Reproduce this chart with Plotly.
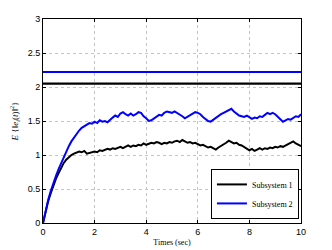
import plotly.graph_objects as go

t = [round(i * 0.1, 1) for i in range(101)]

sub1 = [0.00, 0.17, 0.32, 0.44, 0.55, 0.65, 0.73, 0.81, 0.88, 0.93,
        0.97, 1.00, 1.02, 1.03, 1.05, 1.04, 1.06, 1.02, 1.03, 1.04,
        1.05, 1.04, 1.07, 1.06, 1.08, 1.09, 1.08, 1.10, 1.09, 1.11,
        1.12, 1.10, 1.12, 1.14, 1.12, 1.14, 1.13, 1.15, 1.14, 1.17,
        1.15, 1.16, 1.18, 1.17, 1.19, 1.18, 1.16, 1.18, 1.17, 1.19,
        1.18, 1.20, 1.21, 1.19, 1.22, 1.20, 1.18, 1.19, 1.17, 1.18,
        1.16, 1.14, 1.15, 1.13, 1.11, 1.12, 1.10, 1.08, 1.11, 1.13,
        1.15, 1.18, 1.21, 1.19, 1.17, 1.18, 1.15, 1.14, 1.12, 1.09,
        1.07, 1.09, 1.06, 1.08, 1.10, 1.08, 1.10, 1.09, 1.11, 1.10,
        1.12, 1.11, 1.13, 1.12, 1.14, 1.15, 1.17, 1.20, 1.17, 1.15,
        1.13]

sub2 = [0.00, 0.18, 0.34, 0.47, 0.59, 0.69, 0.79, 0.88, 0.97, 1.05,
        1.13, 1.20, 1.26, 1.32, 1.36, 1.40, 1.42, 1.44, 1.47, 1.46,
        1.49, 1.47, 1.51, 1.49, 1.50, 1.48, 1.52, 1.55, 1.58, 1.56,
        1.61, 1.63, 1.60, 1.58, 1.61, 1.58, 1.60, 1.63, 1.62, 1.57,
        1.54, 1.50, 1.51, 1.54, 1.57, 1.59, 1.58, 1.62, 1.64, 1.63,
        1.62, 1.64, 1.62, 1.60, 1.57, 1.54, 1.56, 1.58, 1.61, 1.63,
        1.62, 1.60, 1.56, 1.53, 1.50, 1.49, 1.52, 1.55, 1.58, 1.60,
        1.62, 1.64, 1.65, 1.68, 1.64, 1.61, 1.58, 1.57, 1.56, 1.58,
        1.55, 1.53, 1.55, 1.54, 1.57, 1.56, 1.59, 1.62, 1.60, 1.62,
        1.60, 1.56, 1.52, 1.49, 1.51, 1.53, 1.52, 1.55, 1.57, 1.56,
        1.60]

bound1 = 2.05
bound2 = 2.22
x_range = [0, 10]
y_range = [0, 3]

fig = go.Figure()
fig.add_trace(go.Scatter(x=x_range, y=[bound2, bound2], mode="lines",
                         line=dict(color="#0000ff", width=2), showlegend=False))
fig.add_trace(go.Scatter(x=x_range, y=[bound1, bound1], mode="lines",
                         line=dict(color="#000000", width=2.2), showlegend=False))
fig.add_trace(go.Scatter(x=t, y=sub1, mode="lines", name="Subsystem 1",
                         line=dict(color="#000000", width=2)))
fig.add_trace(go.Scatter(x=t, y=sub2, mode="lines", name="Subsystem 2",
                         line=dict(color="#0000ff", width=2)))

axis_common = dict(showline=True, linecolor="black", linewidth=1, mirror="ticks",
                   ticks="inside", ticklen=3, tickcolor="black",
                   showgrid=True, gridcolor="#c4c4c4", griddash="dot", gridwidth=1,
                   zeroline=False, automargin=False,
                   tickfont=dict(family="Liberation Sans, Arial", size=9, color="black"))

fig.update_layout(
    width=324, height=242,
    margin=dict(l=35, r=31, t=11, b=27),
    paper_bgcolor="white", plot_bgcolor="white",
    xaxis=dict(range=x_range, dtick=2, **axis_common,
               title=dict(text="Times (sec)", standoff=3,
                          font=dict(family="Liberation Serif, DejaVu Serif", size=8, color="black"))),
    yaxis=dict(range=y_range, dtick=0.5, **axis_common,
               title=dict(text="<i>E</i> {‖<i>e<sub>i</sub></i>(<i>t</i>)‖<sup>2</sup>}", standoff=8,
                          font=dict(family="Liberation Serif, DejaVu Serif", size=9, color="black"))),
    legend=dict(x=0.992, y=0.02, xanchor="right", yanchor="bottom",
                bgcolor="white", bordercolor="black", borderwidth=1,
                font=dict(family="Liberation Serif, DejaVu Serif", size=8, color="black"),
                tracegroupgap=0, itemwidth=30),
    showlegend=True,
)

fig.write_html("out.html")
